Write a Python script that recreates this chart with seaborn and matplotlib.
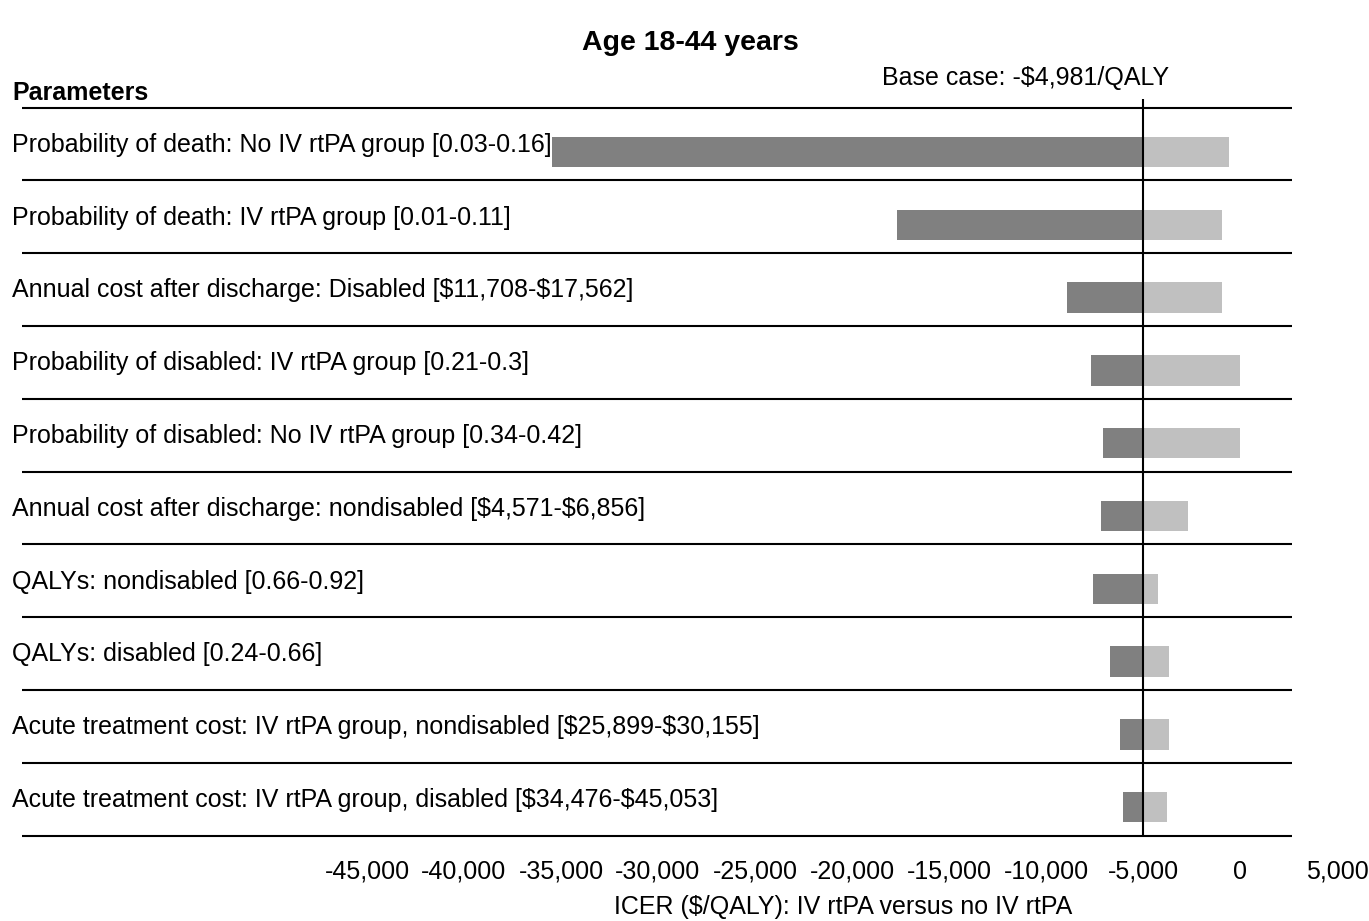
import matplotlib
matplotlib.use("Agg")
import matplotlib.pyplot as plt
import matplotlib.transforms as mtransforms
import pandas as pd
import seaborn as sns

# One-way sensitivity analysis (tornado diagram), age 18-44 years
parameters = [
    "Probability of death: No IV rtPA group [0.03-0.16]",
    "Probability of death: IV rtPA group [0.01-0.11]",
    "Annual cost after discharge: Disabled [$11,708-$17,562]",
    "Probability of disabled: IV rtPA group [0.21-0.3]",
    "Probability of disabled: No IV rtPA group [0.34-0.42]",
    "Annual cost after discharge: nondisabled [$4,571-$6,856]",
    "QALYs: nondisabled [0.66-0.92]",
    "QALYs: disabled [0.24-0.66]",
    "Acute treatment cost: IV rtPA group, nondisabled [$25,899-$30,155]",
    "Acute treatment cost: IV rtPA group, disabled [$34,476-$45,053]",
]
low_icer = [-35470, -17670, -8940, -7700, -7080, -7180, -7600, -6720, -6200, -6050]
high_icer = [-590, -930, -930, 0, 0, -2690, -4240, -3680, -3670, -3770]
base_case = -4981
x_ticks = [-45000, -40000, -35000, -30000, -25000, -20000, -15000, -10000, -5000, 0, 5000]

DARK = "#808080"
LIGHT = "#c0c0c0"
FONT = 18

sns.set_theme(style="white")
plt.rcParams["font.family"] = ["Liberation Sans", "DejaVu Sans"]
plt.rcParams["text.color"] = "black"

W, H = 1369, 921
fig = plt.figure(figsize=(W / 100, H / 100), dpi=100)
fig.patch.set_facecolor("white")

ax_bottom_px = 850
ax = fig.add_axes([0, 1 - ax_bottom_px / H, 1, ax_bottom_px / H])

# bars extend from the base-case ICER to each bound
df = pd.DataFrame({
    "parameter": parameters * 2,
    "delta": [v - base_case for v in low_icer] + [v - base_case for v in high_icer],
    "bound": ["low"] * len(parameters) + ["high"] * len(parameters),
})
sns.barplot(
    data=df, y="parameter", x="delta", hue="bound", orient="h",
    dodge=False, palette={"low": DARK, "high": LIGHT}, width=0.42,
    errorbar=None, legend=False, saturation=1, left=base_case,
    linewidth=0, ax=ax,
)

# pixel geometry of the layout
row_top_px, row_step_px = 152, 72.8
px_per_unit = 19.4 / 1000
zero_px = 1240
ax.set_xlim(-zero_px / px_per_unit, (W - zero_px) / px_per_unit)
ax.set_ylim((ax_bottom_px - row_top_px) / row_step_px, -row_top_px / row_step_px)

n = len(parameters)
line_x0 = (22 - zero_px) / px_per_unit
line_x1 = (1292 - zero_px) / px_per_unit
for i in range(n + 1):
    ax.hlines(i - 0.5 - 0.11, line_x0, line_x1, color="black", lw=1.5, zorder=3)

# base case reference line
ax.vlines(base_case, -0.73, n - 0.5 - 0.11, color="black", lw=1.5, zorder=4)

# parameter labels, left aligned
label_tf = mtransforms.blended_transform_factory(ax.transAxes, ax.transData)
for i, name in enumerate(parameters):
    ax.text(12 / W, i - 0.1, name, transform=label_tf, ha="left", va="center",
            fontsize=FONT, color="black", parse_math=False)

ax.set_yticks([])
ax.set_ylabel("")
ax.set_xticks(x_ticks)
ax.set_xticklabels([f"{v:,}" for v in x_ticks])
ax.tick_params(axis="x", length=0, pad=7, labelsize=FONT, colors="black")
ax.set_xlabel("")
for s in ax.spines.values():
    s.set_visible(False)

fig.text(690 / W, 1 - 43 / H, "Age 18-44 years", ha="center", va="center",
         fontsize=20.5, fontweight="bold", color="black")
fig.text(12 / W, 1 - 93 / H, "Parameters", ha="left", va="center",
         fontsize=18, fontweight="bold", color="black")
fig.text(882 / W, 1 - 78 / H, f"Base case: -${abs(base_case):,}/QALY",
         ha="left", va="center", fontsize=FONT, color="black", parse_math=False)
fig.text(843 / W, 1 - 907 / H, "ICER ($/QALY): IV rtPA versus no IV rtPA",
         ha="center", va="center", fontsize=FONT, color="black", parse_math=False)

fig.savefig("out.png", dpi=100, facecolor="white")
